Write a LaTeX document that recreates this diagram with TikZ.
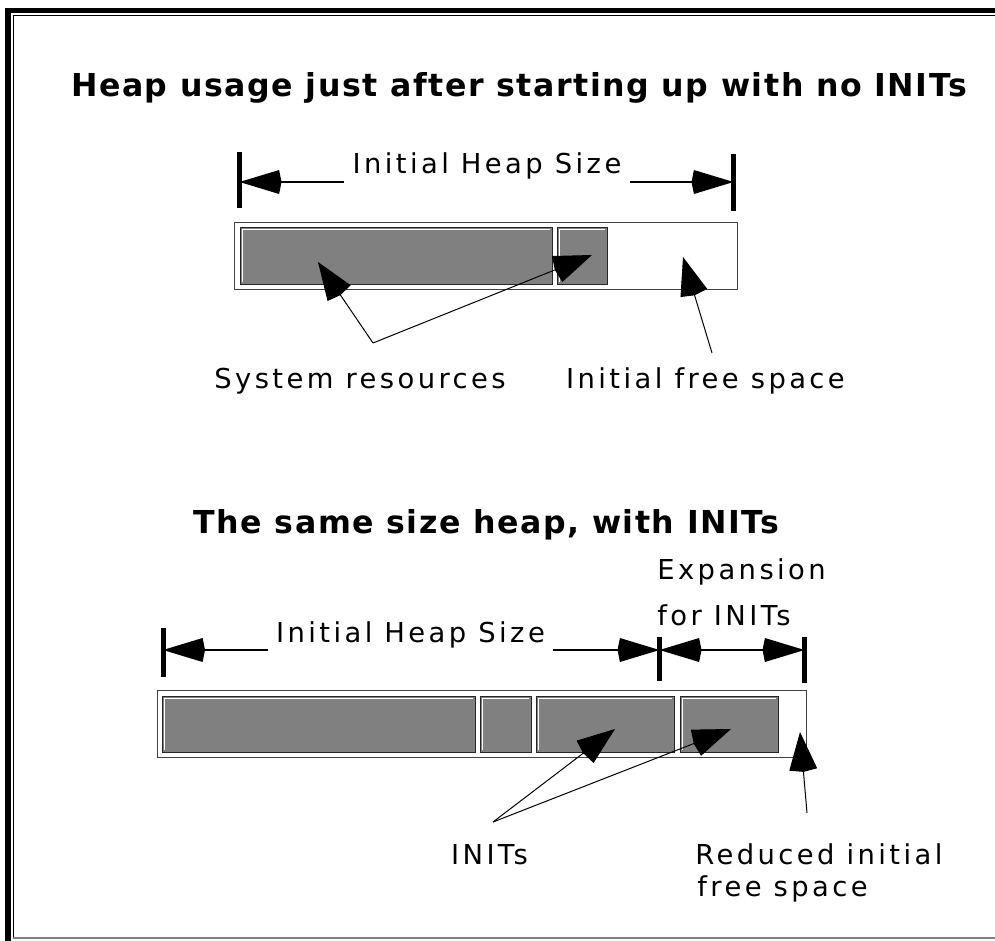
\documentclass[tikz,border=0pt]{standalone}
\usepackage{fontspec}
\setmainfont{DejaVu Sans}
\newfontfamily\lblfont{DejaVu Sans}[LetterSpace=12.4]
\newfontfamily\ttlfont{DejaVu Sans}[LetterSpace=5]
\usetikzlibrary{arrows.meta,calc}
\definecolor{heapgray}{gray}{0.5}

\begin{document}
\begin{tikzpicture}[x=.5pt,y=-.5pt,
  lbl/.style={font=\lblfont\fontsize{13.7}{16}\selectfont,inner sep=0pt},
  ttl/.style={font=\ttlfont\bfseries\fontsize{15.8}{19}\selectfont,inner sep=0pt},
  heapbox/.style={draw=black!75,line width=.5pt,fill=white},
  blk/.style={draw=black!85,line width=.5pt,fill=heapgray,
    path picture={\draw[white,line width=.5pt]
      ([shift={(1pt,1pt)}]path picture bounding box.south west) |-
      ([shift={(-1pt,-1pt)}]path picture bounding box.north east);}},
  bar/.style={line width=2.5pt},
  dim/.style={line width=1pt,-{Kite[length=21pt,width=12pt,inset=1.2pt]}},
  dimboth/.style={line width=1pt,{Kite[length=21pt,width=12pt,inset=1.2pt]}-{Kite[length=21pt,width=12pt,inset=1.2pt]}},
  ptr/.style={line width=.5pt,-{Kite[length=20pt,width=14pt,inset=1.2pt]}}]
\useasboundingbox (0,0) rectangle (995,941);
%\draw[very thin,dashed,step=50] (0,0) grid (995,941);

% frame
\fill (5,8) rectangle (995,13);
\fill (5,8) rectangle (11,941);
\draw[line width=.5pt] (13.5,938) -- (13.5,15.5) -- (995,15.5);
\draw[gray,line width=1pt] (13,938) -- (995,938);

% heap without INITs
\node[ttl,anchor=base] (ttlA) at (519,97) {Heap usage just after starting up with no INITs};
\coordinate (lbA) at (239.5,182);
\coordinate (rbA) at (733.5,182);
\draw[bar] (239.5,152) -- (239.5,208);
\draw[bar] (733.5,154) -- (733.5,211);
\node[lbl,anchor=base,inner xsep=4pt] (sizeA) at (487,174) {Initial Heap Size};
\draw[dim] (sizeA.west |- lbA) -- (lbA);
\draw[dim] (sizeA.east |- rbA) -- (rbA);
\draw[heapbox] (234.5,222.5) rectangle (737,289);
\draw[blk] (240,228) rectangle (552,284);
\draw[blk] (557,228) rectangle (607,284);
\coordinate (sysapex) at (373,343);
\coordinate (sysA) at (318,262);
\coordinate (sysB) at (592,255);
\coordinate (freeA) at (683,257);
\coordinate (freeend) at (712,353);
\draw[ptr] (sysapex) -- (sysA);
\draw[ptr] (sysapex) -- (sysB);
\draw[ptr] (freeend) -- (freeA);
\node[lbl,anchor=base] (sysres) at (360,388) {System resources};
\node[lbl,anchor=base] (freesp) at (705.5,388) {Initial free space};

% heap with INITs
\node[ttl,anchor=base] (ttlB) at (486.5,533) {The same size heap, with INITs};
\node[lbl,anchor=base west] (expA) at (657,579) {Expansion};
\node[lbl,anchor=base west] (expB) at (657,625) {for INITs};
\coordinate (lbB) at (163,650);
\coordinate (mbB) at (659.5,650);
\coordinate (rbB) at (804.5,650);
\draw[bar] (163,628) -- (163,677);
\draw[bar] (659.5,637) -- (659.5,681);
\draw[bar] (804.5,637) -- (804.5,683);
\node[lbl,anchor=base,inner xsep=4pt] (sizeB) at (410.5,642) {Initial Heap Size};
\draw[dim] (sizeB.west |- lbB) -- (lbB);
\draw[dim] (sizeB.east |- mbB) -- (mbB);
\draw[dimboth] (mbB) -- (rbB);
\draw[heapbox] (157.5,690.5) rectangle (806,757);
\draw[blk] (162,696) rectangle (475,752);
\draw[blk] (480,696) rectangle (531,752);
\draw[blk] (536,696) rectangle (674,752);
\draw[blk] (680,696) rectangle (778,752);
\coordinate (initapex) at (493,822);
\coordinate (initA) at (615,729);
\coordinate (initB) at (731,729);
\coordinate (redtip) at (800,732);
\coordinate (redend) at (807,813);
\draw[ptr] (initapex) -- (initA);
\draw[ptr] (initapex) -- (initB);
\draw[ptr] (redend) -- (redtip);
\node[lbl,anchor=base] (inits) at (489.5,864) {INITs};
\node[lbl,anchor=base west] (redA) at (695,864) {Reduced initial};
\node[lbl,anchor=base west] (redB) at (697,896) {free space};
\end{tikzpicture}
\end{document}
